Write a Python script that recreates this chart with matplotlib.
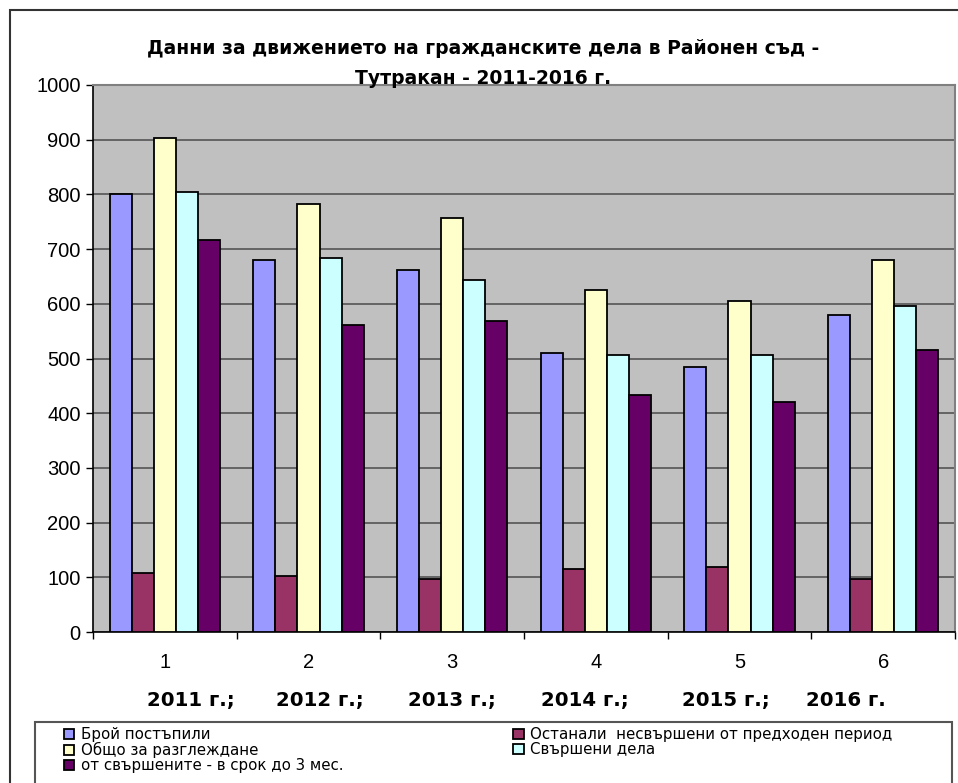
import matplotlib
matplotlib.use("Agg")
import matplotlib.pyplot as plt
from matplotlib.patches import Rectangle
import numpy as np

plt.rcParams['font.family'] = ['Liberation Sans', 'DejaVu Sans']

groups = ["1", "2", "3", "4", "5", "6"]
years = ["2011 г.;", "2012 г.;", "2013 г.;", "2014 г.;", "2015 г.;", "2016 г."]
series_names = [
    "Брой постъпили",
    "Останали  несвършени от предходен период",
    "Общо за разглеждане",
    "Свършени дела",
    "от свършените - в срок до 3 мес.",
]
received = [800, 680, 662, 510, 485, 580]
pending = [107, 103, 96, 115, 118, 96]
total = [904, 783, 757, 625, 605, 680]
completed = [804, 684, 643, 507, 507, 596]
within3m = [716, 561, 569, 434, 420, 515]
series_values = [received, pending, total, completed, within3m]
colors = ["#9999FF", "#993366", "#FFFFCC", "#CCFFFF", "#660066"]
title_lines = ["Данни за движението на гражданските дела в Районен съд -",
               "Тутракан - 2011-2016 г."]

W, H = 958, 783
fig = plt.figure(figsize=(W / 100, H / 100), dpi=100)

# outer chart border
fig.patches.append(Rectangle((10 / W, -0.05), 1.2, 1 - 10 / H + 0.05,
                             transform=fig.transFigure, fill=False,
                             edgecolor="#333333", lw=1.5))

left, right, top, bottom = 93, 955, 85, 632
ax = fig.add_axes([left / W, (H - bottom) / H, (right - left) / W, (bottom - top) / H])
ax.set_facecolor("#C0C0C0")

x = np.arange(len(groups))
bw = 1 / 6.5
handles = []
for k, (vals, c, name) in enumerate(zip(series_values, colors, series_names)):
    b = ax.bar(x + (k - 2) * bw, vals, width=bw, color=c, edgecolor="black",
               linewidth=1.3, label=name, zorder=3)
    handles.append(b)

ax.set_xlim(-0.5, len(groups) - 0.5)
ax.set_ylim(0, 1000)
ax.set_yticks(np.arange(0, 1001, 100))
ax.yaxis.grid(True, color="#555555", lw=1.2, zorder=1)
ax.set_axisbelow(True)

ax.set_xticks(np.arange(-0.5, len(groups)), labels=[""] * (len(groups) + 1))
ax.set_xticks(x, labels=groups, minor=True)
ax.tick_params(axis="x", which="major", direction="out", length=5, width=1)
ax.tick_params(axis="x", which="minor", length=0, pad=15, labelsize=14.5)
ax.tick_params(axis="y", direction="out", length=5, width=1, labelsize=14.5, pad=4)

for s in ["left", "bottom"]:
    ax.spines[s].set_color("black")
    ax.spines[s].set_linewidth(1.2)
for s in ["top", "right"]:
    ax.spines[s].set_color("#808080")
    ax.spines[s].set_linewidth(1.5)

title_y = [48, 79]
for ty, line in zip(title_y, title_lines):
    fig.text(483 / W, 1 - ty / H, line, ha="center", va="center",
             fontsize=13.5, fontweight="bold", family="DejaVu Sans")

year_x = [191, 320, 452, 585, 726, 846]
for yx, lab in zip(year_x, years):
    fig.text(yx / W, 1 - 706 / H, lab, ha="center", va="baseline",
             fontsize=14.2, fontweight="bold", family="DejaVu Sans")

# legend frame
fig.patches.append(Rectangle((35 / W, -0.05), (952 - 35) / W, (H - 722) / H + 0.05,
                             transform=fig.transFigure, fill=False,
                             edgecolor="#555555", lw=1.5))
order = [0, 2, 4, 1, 3]
leg = fig.legend([handles[i] for i in order], [series_names[i] for i in order],
                 ncol=2, loc="upper left", bbox_to_anchor=(64 / W, 1 - 727 / H),
                 frameon=False, handlelength=0.7, handleheight=0.7,
                 handletextpad=0.45, labelspacing=0.0, columnspacing=11.3,
                 borderaxespad=0, borderpad=0,
                 prop={"family": "DejaVu Sans", "size": 10.8})

fig.savefig("out.png", dpi=100)
